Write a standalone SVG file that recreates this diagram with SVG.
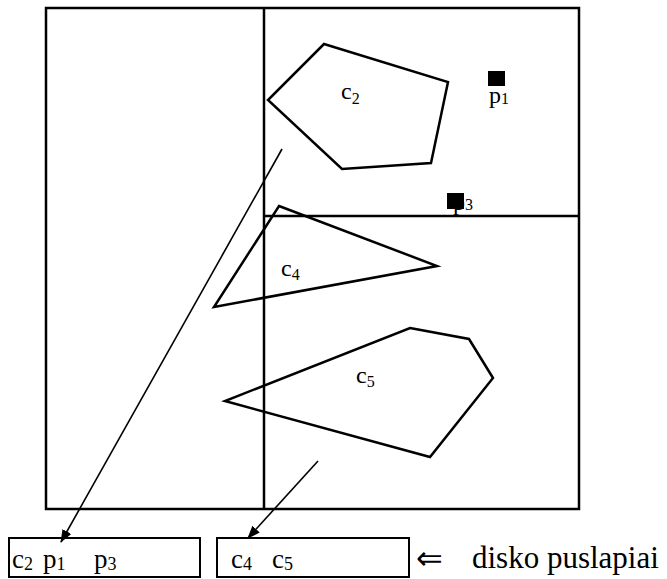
<svg xmlns="http://www.w3.org/2000/svg" width="667" height="579" viewBox="0 0 667 579">
<defs>
<marker id="ah" viewBox="0 0 13 10" refX="12" refY="5" markerWidth="13" markerHeight="10" markerUnits="userSpaceOnUse" orient="auto">
<path d="M0,0 L13,5 L0,10 Z" fill="#000"/>
</marker>
<style>
.s{fill:none;stroke:#000;stroke-width:2.5;stroke-linejoin:miter}
.b{fill:#fff;stroke:#000;stroke-width:2}
.a{fill:none;stroke:#000;stroke-width:1.6;marker-end:url(#ah)}
text{font-family:Liberation Serif, DejaVu Serif, serif;fill:#000}
.arr{font-family:DejaVu Sans, sans-serif}
</style>
</defs>
<g id="grid">
<rect class="s" x="46" y="8" width="533" height="501"/>
<line class="s" x1="264" y1="8" x2="264" y2="509"/>
<line class="s" x1="264" y1="216" x2="579" y2="216"/>
</g>
<g id="c2">
<polygon class="s" points="324,44 448,82 431,163 342,169 268,100"/>
<text x="341" y="99" font-size="24">c<tspan font-size="16" dy="5">2</tspan></text>
</g>
<g id="p1">
<rect x="488" y="71" width="17" height="15" fill="#000"/>
<text x="489" y="103" font-size="24">p<tspan font-size="16" dy="1">1</tspan></text>
</g>
<g id="p3">
<text x="453" y="210" font-size="24">p<tspan font-size="16" dy="0">3</tspan></text>
<rect x="447" y="193" width="17" height="16" fill="#000"/>
</g>
<g id="c4">
<polygon class="s" points="279,206 437,266 214,307"/>
<text x="281" y="276" font-size="24">c<tspan font-size="16" dy="4">4</tspan></text>
</g>
<g id="c5">
<polygon class="s" points="410,328 469,339 493,378 430,457 225,401"/>
<text x="356" y="383" font-size="24">c<tspan font-size="16" dy="4">5</tspan></text>
</g>
<g id="page1">
<rect class="b" x="9" y="538" width="191" height="39"/>
<text y="568" font-size="27"><tspan x="12">c</tspan><tspan font-size="18" dy="2">2</tspan><tspan x="43" dy="-2">p</tspan><tspan font-size="18" dy="2">1</tspan><tspan x="94" dy="-2">p</tspan><tspan font-size="18" dy="2">3</tspan></text>
</g>
<g id="page2">
<rect class="b" x="217" y="538" width="192" height="39"/>
<text y="568" font-size="27"><tspan x="231">c</tspan><tspan font-size="18" dy="2">4</tspan><tspan x="272" dy="-2">c</tspan><tspan font-size="18" dy="2">5</tspan></text>
</g>
<g id="legend">
<text class="arr" x="416" y="569" font-size="32">⇐</text>
<text x="472" y="568" font-size="31">disko puslapiai</text>
</g>
<g id="connectors">
<line class="a" x1="282" y1="149" x2="61" y2="542"/>
<line class="a" x1="318" y1="461" x2="248" y2="538"/>
</g>
</svg>
